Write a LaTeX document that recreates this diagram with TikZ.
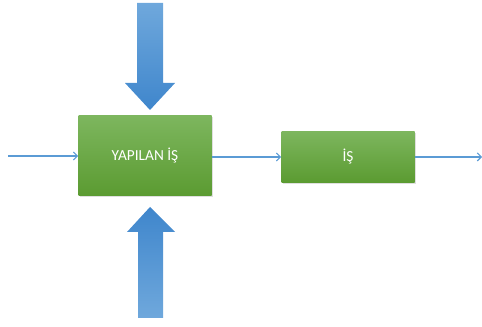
\documentclass[tikz,border=0pt]{standalone}
\usepackage{fontspec}
\setmainfont{Carlito}
\usetikzlibrary{arrows.meta,shadows}

\definecolor{boxtop}{HTML}{7DB65E}
\definecolor{boxbot}{HTML}{5B9B31}
\definecolor{flowline}{HTML}{5B9BD5}
\definecolor{bigtop}{HTML}{6FA8DC}
\definecolor{bigbot}{HTML}{3F86CC}

\begin{document}
\begin{tikzpicture}[x=0.75pt,y=-0.75pt,
greenbox/.style={rectangle, top color=boxtop, bottom color=boxbot, draw=none,
  text=white, font=\fontsize{11.5}{13}\selectfont, drop shadow={opacity=0.25,shadow xshift=1pt,shadow yshift=-1pt}},
flow/.style={draw=flowline, line width=0.8pt, -{Straight Barb[length=3pt,width=6pt]}},
]
\useasboundingbox (0,0) rectangle (482,327);
%Nodes
\node[greenbox, minimum width=99.75pt, minimum height=60pt] at (145,156) (work) {YAPILAN İŞ};
\node[greenbox, minimum width=99.75pt, minimum height=38.25pt] at (348,157) (job) {İŞ};
\coordinate (in) at (8,156);
\coordinate (out) at (482,157);
%Lines
\draw[flow] (in) -- (work.west);
\draw[flow] (work.east |- job.west) -- (job.west);
\draw[flow] (job.east) -- (out);
%Big arrows
\shade[top color=bigtop, bottom color=bigbot] (137,3) -- (163,3) -- (163,83) -- (175,83)
  -- (150,110) -- (125,83) -- (137,83) -- cycle;
\shade[top color=bigbot, bottom color=bigtop] (150,207) -- (175,232) -- (163,232)
  -- (163,318) -- (138,318) -- (138,232) -- (127,232) -- cycle;
\end{tikzpicture}
\end{document}
